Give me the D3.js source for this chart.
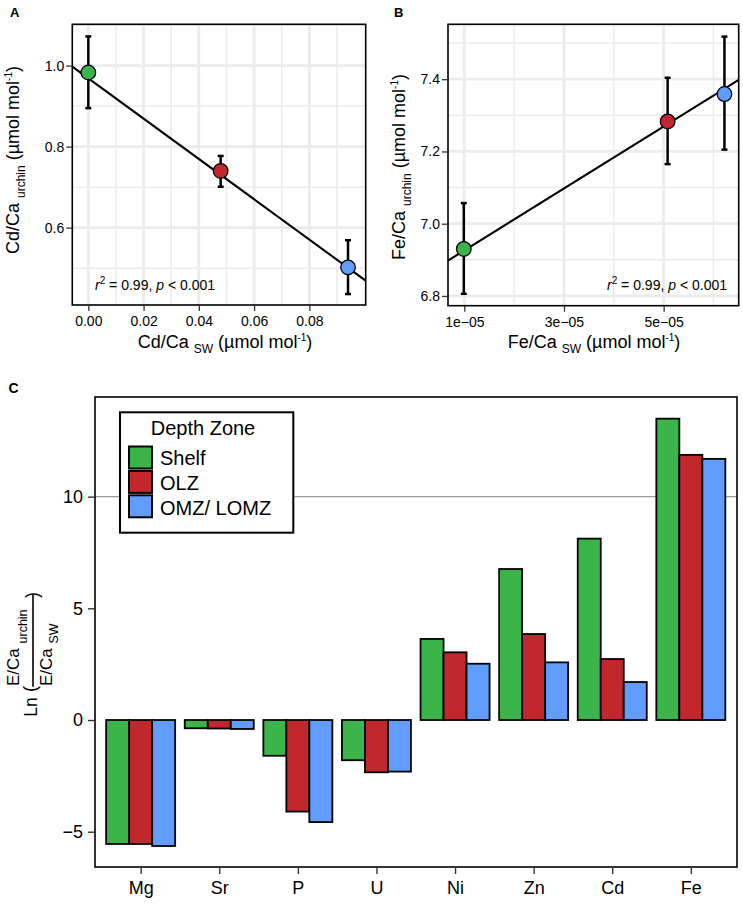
<!DOCTYPE html>
<html>
<head>
<meta charset="utf-8">
<script src="https://cdn.jsdelivr.net/npm/d3@7"></script>
<style>
  body { margin: 0; background: #fff; }
  text { font-family: "Liberation Sans", Arial, sans-serif; white-space: pre; }
</style>
</head>
<body>
<div id="chart"></div>
<script>
// depth zones shared by all three panels
const zones = ["Shelf", "OLZ", "OMZ/ LOMZ"];
const zoneColors = ["#3bb54a", "#c1272d", "#619cff"];

// panel A: Cd/Ca seawater vs urchin
const cdSw = [0.0000, 0.0479, 0.0940];
const cdUrchin = [0.983, 0.740, 0.502];
const cdUrchinLo = [0.895, 0.701, 0.436];
const cdUrchinHi = [1.072, 0.777, 0.569];
const cdFit = [0.9686, -4.976]; // intercept, slope

// panel B: Fe/Ca seawater vs urchin
const feSw = [0.99e-5, 5.08e-5, 6.22e-5];
const feUrchin = [6.930, 7.283, 7.359];
const feUrchinLo = [6.806, 7.165, 7.205];
const feUrchinHi = [7.057, 7.404, 7.518];
const feFit = [6.840, 8580];

// panel C: Ln(E/Ca urchin / E/Ca sw)
const elements = ["Mg", "Sr", "P", "U", "Ni", "Zn", "Cd", "Fe"];
const lnShelf = [-5.55, -0.37, -1.60, -1.80, 3.63, 6.76, 8.12, 13.49];
const lnOlz   = [-5.55, -0.38, -4.10, -2.34, 3.03, 3.85, 2.73, 11.87];
const lnOmz   = [-5.64, -0.40, -4.57, -2.31, 2.52, 2.58, 1.70, 11.69];
const lnRefLine = 10;

const W = 743, H = 905;
const gridCol = "#ebebeb";
const tickCol = "#333";
const labCol = "#000";

const svg = d3.select("#chart")
  .append("svg")
    .attr("width", W)
    .attr("height", H);

svg.append("rect").attr("width", W).attr("height", H).attr("fill", "#fff");

// helper: append tspans with size / baseline shifts
function rich(sel, parts) {
  parts.forEach(p => {
    sel.append("tspan")
      .attr("font-size", p.s)
      .attr("dy", p.dy || 0)
      .attr("font-style", p.it ? "italic" : null)
      .text(p.t);
  });
  return sel;
}

function sciFmt(v) {
  const [m, e] = v.toExponential(0).split("e");
  return m + "e" + (+e < 0 ? "\u2212" : "+") + String(Math.abs(+e)).padStart(2, "0");
}

function scatterPanel(p) {
  const x = d3.scaleLinear().domain(p.xDomain).range([p.left, p.right]);
  const y = d3.scaleLinear().domain(p.yDomain).range([p.bottom, p.top]);
  const g = svg.append("g");

  // grid
  g.selectAll(".xminor").data(p.xMinor).join("line")
    .attr("x1", x).attr("x2", x).attr("y1", p.top).attr("y2", p.bottom)
    .attr("stroke", gridCol).attr("stroke-width", 1.5);
  g.selectAll(".yminor").data(p.yMinor).join("line")
    .attr("y1", y).attr("y2", y).attr("x1", p.left).attr("x2", p.right)
    .attr("stroke", gridCol).attr("stroke-width", 1.5);
  g.selectAll(".xmajor").data(p.xTicks).join("line")
    .attr("x1", x).attr("x2", x).attr("y1", p.top).attr("y2", p.bottom)
    .attr("stroke", gridCol).attr("stroke-width", 2.8);
  g.selectAll(".ymajor").data(p.yTicks).join("line")
    .attr("y1", y).attr("y2", y).attr("x1", p.left).attr("x2", p.right)
    .attr("stroke", gridCol).attr("stroke-width", 2.8);

  // fitted line across the panel
  const f = v => p.fit[0] + p.fit[1] * v;
  g.append("line")
    .attr("x1", x(p.xDomain[0])).attr("y1", y(f(p.xDomain[0])))
    .attr("x2", x(p.xDomain[1])).attr("y2", y(f(p.xDomain[1])))
    .attr("stroke", "#000").attr("stroke-width", 2.1);

  // error bars
  const idx = d3.range(p.xs.length);
  g.selectAll(".err").data(idx).join("line")
    .attr("x1", i => x(p.xs[i])).attr("x2", i => x(p.xs[i]))
    .attr("y1", i => y(p.lo[i])).attr("y2", i => y(p.hi[i]))
    .attr("stroke", "#000").attr("stroke-width", 2.5);
  [p.lo, p.hi].forEach(arr => {
    g.selectAll(null).data(idx).join("line")
      .attr("x1", i => x(p.xs[i]) - 3).attr("x2", i => x(p.xs[i]) + 3)
      .attr("y1", i => y(arr[i])).attr("y2", i => y(arr[i]))
      .attr("stroke", "#000").attr("stroke-width", 2.5);
  });

  // points
  g.selectAll(".pt").data(idx).join("circle")
    .attr("cx", i => x(p.xs[i])).attr("cy", i => y(p.ys[i]))
    .attr("r", 7.3)
    .attr("fill", i => zoneColors[i])
    .attr("stroke", "#000").attr("stroke-width", 1.3);

  // border
  g.append("rect")
    .attr("x", p.left).attr("y", p.top)
    .attr("width", p.right - p.left).attr("height", p.bottom - p.top)
    .attr("fill", "none").attr("stroke", "#000").attr("stroke-width", 1.6);

  // axes
  const gx = g.append("g")
    .attr("transform", `translate(0,${p.bottom})`)
    .call(d3.axisBottom(x).tickValues(p.xTicks).tickFormat(p.xFmt).tickSize(6).tickPadding(5));
  const gy = g.append("g")
    .attr("transform", `translate(${p.left},0)`)
    .call(d3.axisLeft(y).tickValues(p.yTicks).tickFormat(p.yFmt).tickSize(6).tickPadding(2));
  [gx, gy].forEach(a => {
    a.select(".domain").remove();
    a.selectAll(".tick line").attr("stroke", tickCol).attr("stroke-width", 1.3);
    a.selectAll("text").attr("font-size", 14).attr("fill", labCol)
      .attr("font-family", "'Liberation Sans', Arial, sans-serif");
  });

  // axis titles
  rich(svg.append("text")
    .attr("x", p.xTitleX).attr("y", 348).attr("text-anchor", "middle").attr("fill", "#000"),
    [{ t: p.el + "/Ca ", s: 18 }, { t: "SW", s: 12, dy: 5 }, { t: " (\u00b5mol mol", s: 18, dy: -5 },
     { t: "-1", s: 10, dy: -7 }, { t: ")", s: 18, dy: 7 }]);

  rich(svg.append("text")
    .attr("transform", `translate(${p.yTitleX},${p.yTitleY}) rotate(-90)`)
    .attr("text-anchor", "middle").attr("fill", "#000"),
    [{ t: p.el + "/Ca ", s: 18 }, { t: "urchin", s: 12, dy: 6 }, { t: " (\u00b5mol mol", s: 18, dy: -6 },
     { t: "-1", s: 10, dy: -7 }, { t: ")", s: 18, dy: 7 }]);

  // statistics
  rich(svg.append("text")
    .attr("x", p.statX).attr("y", 290).attr("text-anchor", p.statAnchor).attr("fill", "#000"),
    [{ t: "r", s: 14, it: true }, { t: "2", s: 10, dy: -6 }, { t: " = 0.99, ", s: 14, dy: 6 },
     { t: "p", s: 14, it: true }, { t: " < 0.001", s: 14 }]);

  // panel letter
  svg.append("text")
    .attr("x", p.letterX).attr("y", 17)
    .attr("font-size", 13).attr("font-weight", "bold")
    .text(p.letter);
}

scatterPanel({
  letter: "A", letterX: 10, el: "Cd",
  left: 72.3, right: 365.7, top: 24.3, bottom: 305,
  xDomain: [-0.0058, 0.1004], yDomain: [0.409, 1.102],
  xTicks: [0, 0.02, 0.04, 0.06, 0.08], xMinor: [0.01, 0.03, 0.05, 0.07, 0.09],
  yTicks: [0.6, 0.8, 1.0], yMinor: [0.5, 0.7, 0.9, 1.1],
  xFmt: d3.format(".2f"), yFmt: d3.format(".1f"),
  xs: cdSw, ys: cdUrchin, lo: cdUrchinLo, hi: cdUrchinHi, fit: cdFit,
  xTitleX: 225, yTitleX: 19, yTitleY: 160,
  statX: 95, statAnchor: "start"
});

scatterPanel({
  letter: "B", letterX: 394, el: "Fe",
  left: 448, right: 738.7, top: 24.3, bottom: 305.7,
  xDomain: [0.673e-5, 6.506e-5], yDomain: [6.773, 7.552],
  xTicks: [1e-5, 3e-5, 5e-5], xMinor: [2e-5, 4e-5, 6e-5],
  yTicks: [6.8, 7.0, 7.2, 7.4], yMinor: [6.9, 7.1, 7.3, 7.5],
  xFmt: sciFmt, yFmt: d3.format(".1f"),
  xs: feSw, ys: feUrchin, lo: feUrchinLo, hi: feUrchinHi, fit: feFit,
  xTitleX: 594, yTitleX: 405, yTitleY: 167,
  statX: 727, statAnchor: "end"
});

// ---------- panel C ----------
const cL = 95, cR = 737, cT = 397, cB = 867;
const xC = d3.scalePoint().domain(elements).range([93.5, 738]).padding(0.6);
const xSub = d3.scaleBand().domain(zones).range([-34.5, 34.5]);
const yC = d3.scaleLinear().domain([-6.58, 14.46]).range([cB, cT]);

const gc = svg.append("g");

gc.append("line")
  .attr("x1", cL).attr("x2", cR)
  .attr("y1", yC(lnRefLine)).attr("y2", yC(lnRefLine))
  .attr("stroke", "#999").attr("stroke-width", 1.3);

const series = [lnShelf, lnOlz, lnOmz];
const barData = [];
series.forEach((vals, zi) => vals.forEach((v, ei) => barData.push({ zone: zones[zi], zi, el: elements[ei], v })));

gc.selectAll(".bar").data(barData).join("rect")
  .attr("x", d => xC(d.el) + xSub(d.zone))
  .attr("width", xSub.bandwidth())
  .attr("y", d => yC(Math.max(0, d.v)))
  .attr("height", d => Math.abs(yC(d.v) - yC(0)))
  .attr("fill", d => zoneColors[d.zi])
  .attr("stroke", "#000").attr("stroke-width", 1.8);

gc.append("rect")
  .attr("x", cL).attr("y", cT).attr("width", cR - cL).attr("height", cB - cT)
  .attr("fill", "none").attr("stroke", "#000").attr("stroke-width", 1.6);

const gcx = gc.append("g").attr("transform", `translate(0,${cB})`)
  .call(d3.axisBottom(xC).tickSize(7).tickPadding(7));
const gcy = gc.append("g").attr("transform", `translate(${cL},0)`)
  .call(d3.axisLeft(yC).tickValues([-5, 0, 5, 10]).tickSize(7).tickPadding(5));
[gcx, gcy].forEach(a => {
  a.select(".domain").remove();
  a.selectAll(".tick line").attr("stroke", tickCol).attr("stroke-width", 1.4);
  a.selectAll("text").attr("font-size", 18).attr("fill", labCol)
    .attr("font-family", "'Liberation Sans', Arial, sans-serif");
});

// legend
const lg = gc.append("g");
lg.append("rect")
  .attr("x", 120).attr("y", 412.3).attr("width", 173.3).attr("height", 120.4)
  .attr("fill", "#fff").attr("stroke", "#000").attr("stroke-width", 2);
lg.append("text")
  .attr("x", 203).attr("y", 435).attr("text-anchor", "middle")
  .attr("font-size", 20).text("Depth Zone");
lg.selectAll(".key").data(zones).join("rect")
  .attr("x", 129).attr("y", (d, i) => 446.5 + i * 24.4)
  .attr("width", 23).attr("height", 22)
  .attr("fill", (d, i) => zoneColors[i])
  .attr("stroke", "#000").attr("stroke-width", 2);
lg.selectAll(".lab").data(zones).join("text")
  .attr("x", 160).attr("y", (d, i) => 465 + i * 25.2)
  .attr("font-size", 20).text(d => d);

// y title: Ln ( E/Ca urchin / E/Ca sw )
const yt = svg.append("g").attr("transform", "translate(33,659) rotate(-90)");
yt.append("text").attr("x", -57.7).attr("y", 4.3).attr("font-size", 17.5).text("Ln");
yt.append("text").attr("x", -33).attr("y", 3).attr("font-size", 18).text("(");
yt.append("line").attr("x1", -27.7).attr("x2", 64).attr("y1", 0).attr("y2", 0)
  .attr("stroke", "#000").attr("stroke-width", 1.6);
rich(yt.append("text").attr("x", -27).attr("y", -14),
  [{ t: "E/Ca ", s: 17 }, { t: "urchin", s: 12.5, dy: 8 }]);
rich(yt.append("text").attr("x", -27).attr("y", 18.7),
  [{ t: "E/Ca ", s: 17 }, { t: "SW", s: 12.5, dy: 6.6 }]);
yt.append("text").attr("x", 61).attr("y", 5).attr("font-size", 18).text(")");

svg.append("text")
  .attr("x", 8.5).attr("y", 393)
  .attr("font-size", 14).attr("font-weight", "bold")
  .text("C");
</script>
</body>
</html>
